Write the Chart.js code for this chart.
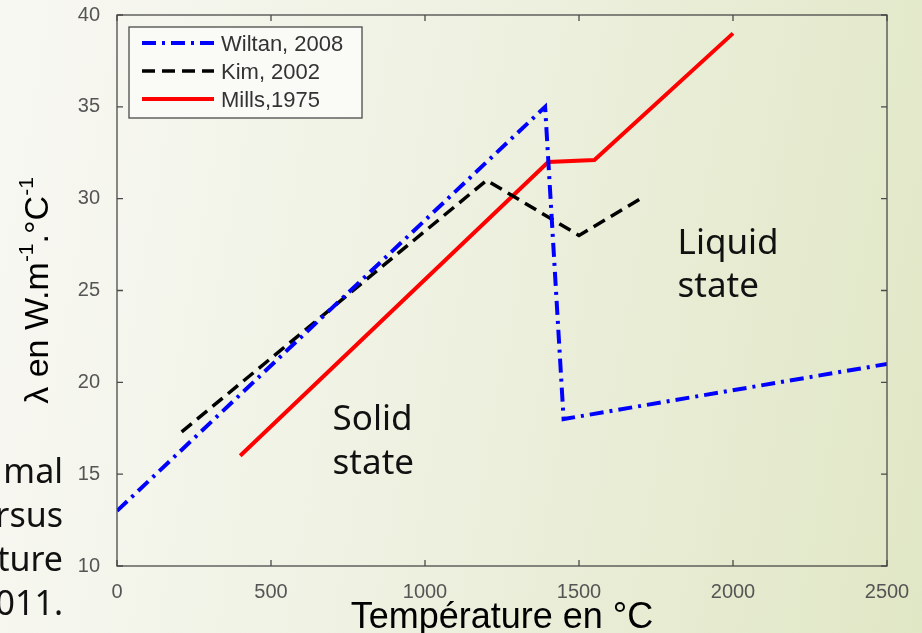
<!DOCTYPE html>
<html>
<head>
<meta charset="utf-8">
<script src="https://cdn.jsdelivr.net/npm/chart.js@4.4.0/dist/chart.umd.min.js"></script>
<style>
  html, body { margin: 0; padding: 0; }
  body {
    width: 922px; height: 633px; overflow: hidden;
    background: linear-gradient(100deg, #f8f8f3 0%, #f0f2e4 40%, #e0e7c5 100%);
  }
</style>
</head>
<body>
<canvas id="myChart" width="922" height="633"></canvas>
<script>
// data
const wiltanT = [0, 1390, 1450, 2500];
const wiltanL = [13, 35, 18, 21];
const kimT = [210, 1200, 1500, 1700];
const kimL = [17.3, 31, 28, 30];
const millsT = [400, 1400, 1550, 2000];
const millsL = [16, 32, 32.1, 39];
const seriesNames = ["Wiltan, 2008", "Kim, 2002", "Mills,1975"];
const xTicks = [0, 500, 1000, 1500, 2000, 2500];
const yTicks = [10, 15, 20, 25, 30, 35, 40];

const pts = (xs, ys) => xs.map((x, i) => ({ x: x, y: ys[i] }));

const sansFont = "'Liberation Sans', Arial, sans-serif";
const slideFont = "'Noto Sans', 'DejaVu Sans', sans-serif";

const framePlugin = {
  id: "frame",
  afterDraw(chart) {
    const ctx = chart.ctx;
    const a = chart.chartArea;
    const xs = chart.scales.x, ys = chart.scales.y;
    ctx.save();

    // box + inward ticks
    ctx.strokeStyle = "#4a4a4a";
    ctx.lineWidth = 1.3;
    ctx.strokeRect(a.left, a.top, a.right - a.left, a.bottom - a.top);
    ctx.beginPath();
    xTicks.forEach(v => {
      const px = xs.getPixelForValue(v);
      ctx.moveTo(px, a.bottom); ctx.lineTo(px, a.bottom - 6);
      ctx.moveTo(px, a.top); ctx.lineTo(px, a.top + 6);
    });
    yTicks.forEach(v => {
      const py = ys.getPixelForValue(v);
      ctx.moveTo(a.left, py); ctx.lineTo(a.left + 6, py);
      ctx.moveTo(a.right, py); ctx.lineTo(a.right - 6, py);
    });
    ctx.stroke();

    // legend
    const lx = 129, ly = 27, lw = 233, lh = 91;
    ctx.fillStyle = "#fafaf7";
    ctx.fillRect(lx, ly, lw, lh);
    ctx.strokeStyle = "#4a4a4a";
    ctx.lineWidth = 1.3;
    ctx.strokeRect(lx, ly, lw, lh);
    chart.data.datasets.forEach((ds, i) => {
      const y = 43 + i * 28;
      ctx.beginPath();
      ctx.setLineDash(ds.borderDash || []);
      ctx.strokeStyle = ds.borderColor;
      ctx.lineWidth = ds.borderWidth;
      ctx.moveTo(142, y); ctx.lineTo(214, y);
      ctx.stroke();
      ctx.setLineDash([]);
      ctx.fillStyle = "#333";
      ctx.font = "22px " + sansFont;
      ctx.textBaseline = "middle";
      ctx.textAlign = "left";
      ctx.fillText(ds.label, 221, y + 2);
    });

    // axis titles
    ctx.fillStyle = "#000";
    ctx.textBaseline = "alphabetic";
    ctx.textAlign = "center";
    ctx.font = "36px " + sansFont;
    ctx.fillText("Température en °C", (a.left + a.right) / 2, 628);

    // y title with superscripts
    const parts = [["λ en W.m", false], ["-1", true], [".°C", false], ["-1", true]];
    const big = "34px " + sansFont, small = "21px " + sansFont;
    let total = 0;
    parts.forEach(p => { ctx.font = p[1] ? small : big; total += ctx.measureText(p[0]).width; });
    ctx.translate(48, (a.top + a.bottom) / 2);
    ctx.rotate(-Math.PI / 2);
    ctx.textAlign = "left";
    let cx = -total / 2;
    parts.forEach(p => {
      ctx.font = p[1] ? small : big;
      ctx.fillText(p[0], cx, p[1] ? -15 : 0);
      cx += ctx.measureText(p[0]).width;
    });
    ctx.restore();

    // slide annotations
    ctx.save();
    ctx.fillStyle = "#111";
    ctx.font = "35px " + slideFont;
    ctx.textAlign = "left";
    ctx.textBaseline = "alphabetic";
    const sx = xs.getPixelForValue(700), sy = ys.getPixelForValue(17.4);
    ctx.fillText("Solid", sx, sy);
    ctx.fillText("state", sx, sy + 44);
    const qx = xs.getPixelForValue(1820), qy = ys.getPixelForValue(27.0);
    ctx.fillText("Liquid", qx, qy);
    ctx.fillText("state", qx, qy + 43);

    // cut-off caption on the left
    ctx.font = "34px " + slideFont;
    ctx.textAlign = "right";
    ["mal", "rsus", "ture", "011."].forEach((t, i) => ctx.fillText(t, 63, 483 + i * 44));
    ctx.restore();
  }
};

const ctx = document.getElementById("myChart").getContext("2d");
const myChart = new Chart(ctx, {
  type: "scatter",
  data: {
    datasets: [
      {
        label: seriesNames[0],
        data: pts(wiltanT, wiltanL),
        borderColor: "#0000ff",
        borderWidth: 4,
        borderDash: [14, 6, 3, 6]
      },
      {
        label: seriesNames[1],
        data: pts(kimT, kimL),
        borderColor: "#000000",
        borderWidth: 3.5,
        borderDash: [13, 7]
      },
      {
        label: seriesNames[2],
        data: pts(millsT, millsL),
        borderColor: "#ff0000",
        borderWidth: 4
      }
    ]
  },
  plugins: [framePlugin],
  options: {
    responsive: false,
    animation: false,
    showLine: true,
    elements: {
      point: { radius: 0, hoverRadius: 0 },
      line: { tension: 0, borderCapStyle: "butt" }
    },
    layout: { padding: { top: 15, right: 35, left: 0, bottom: 0 } },
    plugins: {
      legend: { display: false },
      tooltip: { enabled: false }
    },
    scales: {
      x: {
        type: "linear",
        min: 0,
        max: 2500,
        afterBuildTicks: s => { s.ticks = xTicks.map(v => ({ value: v })); },
        afterFit: s => { s.height = 67; s.paddingLeft = 0; s.paddingRight = 0; },
        grid: { display: false },
        border: { display: false },
        ticks: {
          color: "#555",
          padding: 6,
          maxRotation: 0,
          font: { size: 20, family: sansFont },
          callback: v => String(v)
        }
      },
      y: {
        min: 10,
        max: 40,
        afterBuildTicks: s => { s.ticks = yTicks.map(v => ({ value: v })); },
        afterFit: s => { s.width = 117; s.paddingTop = 0; s.paddingBottom = 0; },
        grid: { display: false },
        border: { display: false },
        ticks: {
          color: "#555",
          padding: 9,
          font: { size: 20, family: sansFont },
          callback: v => String(v)
        }
      }
    }
  }
});
</script>
</body>
</html>
